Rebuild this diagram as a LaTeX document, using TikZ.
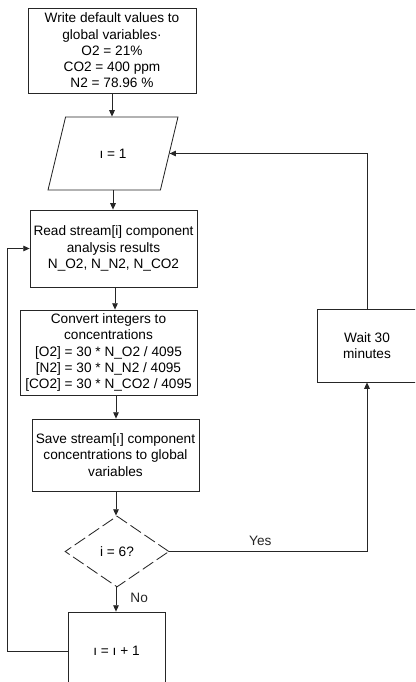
\documentclass[tikz,border=0pt]{standalone}
\usepackage{fontspec}
\setmainfont{Liberation Sans}
\usetikzlibrary{shapes.geometric,arrows.meta}
\newcommand{\pxu}{0.025cm}
\begin{document}
\begin{tikzpicture}[
  x=0.025cm, y=-0.025cm,
  every node/.style = {font=\fontsize{9.7}{11.6}\selectfont, inner sep=1pt},
  flowbox/.style = {draw=black!85, line width=0.6pt, rectangle, align=center},
  flowio/.style = {draw=black!85, line width=0.6pt, trapezium, trapezium stretches=true,
    trapezium left angle=65.7, trapezium right angle=114.3},
  flowdec/.style = {draw=black!85, line width=0.6pt, diamond, dash pattern=on 9pt off 3pt},
  flowarrow/.style = {-{Triangle[length=4.5pt,width=4pt]}, line width=0.6pt, black!85},
  flowlbl/.style = {font=\fontsize{9.7}{11.6}\selectfont}
]
  \clip (0,0) rectangle (415,682);
  % nodes
  \node[flowbox, minimum width=168*\pxu, minimum height=85*\pxu] (defaults) at (112,50.5)
    {Write default values to\\global variables·\\O2 = 21\%\\CO2 = 400 ppm\\N2 = 78.96 \%};
  \node[flowio, minimum width=130*\pxu, minimum height=73*\pxu] (init) at (113,153.5) {ı = 1};
  \node[flowbox, minimum width=167*\pxu, minimum height=77*\pxu] (read) at (113.5,248.5)
    {Read stream[i] component\\analysis results\\N\_O2, N\_N2, N\_CO2};
  \node[flowbox, minimum width=177*\pxu, minimum height=85*\pxu] (convert) at (108.5,352.5)
    {Convert integers to\\concentrations\\{}[O2] = 30 * N\_O2 / 4095\\{}[N2] = 30 * N\_N2 / 4095\\{}[CO2] = 30 * N\_CO2 / 4095};
  \node[flowbox, minimum width=167*\pxu, minimum height=72*\pxu] (save) at (115.5,455)
    {Save stream[ı] component\\concentrations to global\\variables};
  \node[flowdec, minimum width=104*\pxu, minimum height=71*\pxu] (check) at (117,551.5) {i = 6?};
  \node[flowbox, minimum width=100*\pxu, minimum height=73*\pxu] (wait) at (367,345.5)
    {Wait 30\\minutes};
  \node[flowbox, minimum width=97*\pxu, minimum height=78*\pxu] (incr) at (116.5,651)
    {ı = ı + 1};
  % connectors
  \draw[flowarrow] (defaults.south) -- (defaults.south |- init.north);
  \draw[flowarrow] (init.south) -- (init.south |- read.north);
  \draw[flowarrow] (read.south -| 115,0) -- (115,0 |- convert.north);
  \draw[flowarrow] (convert.south -| 116,0) -- (116,0 |- save.north);
  \draw[flowarrow] (save.south -| 116,0) -- (116,0 |- check.north);
  \draw[flowarrow] (check.south -| 116,0) -- (116,0 |- incr.north)
    node[flowlbl, pos=0.45, right=9pt] {No};
  \draw[flowarrow] (check.east) -| (wait.south)
    node[flowlbl, pos=0.23, above=3pt] {Yes};
  \draw[flowarrow] (wait.north) |- (init.east);
  \draw[flowarrow] (incr.west) -- ++(-60,0) |- (read.west);
\end{tikzpicture}
\end{document}
